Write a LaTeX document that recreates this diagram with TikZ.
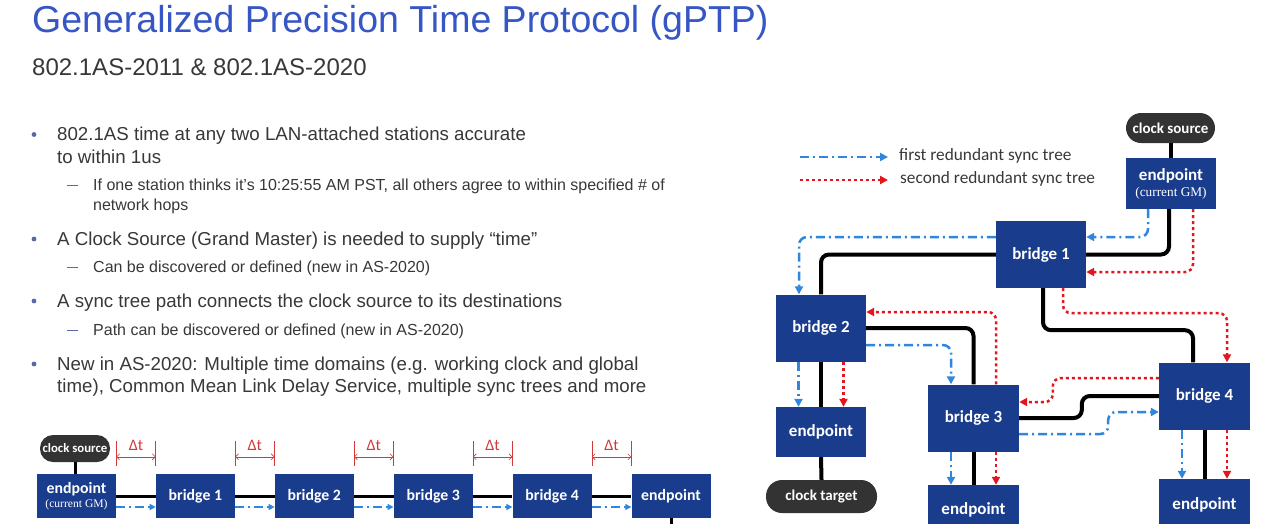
\documentclass[tikz,border=0pt]{standalone}
\usepackage{fontspec}
\setmainfont{Liberation Sans}
\newfontfamily\diag{Carlito}
\newfontfamily\gmserif{Liberation Serif}
\usetikzlibrary{arrows.meta,positioning,calc}
\definecolor{titleblue}{HTML}{3556C4}
\definecolor{bodygray}{HTML}{383838}
\definecolor{dotblue}{HTML}{5868A8}
\definecolor{boxblue}{HTML}{1A3C8C}
\definecolor{pillgray}{HTML}{333333}
\definecolor{treeblue}{HTML}{2E86DE}
\definecolor{treered}{HTML}{E3161E}
\definecolor{dtred}{HTML}{D23A3A}

\begin{document}
\begin{tikzpicture}[x=1pt, y=-1pt,
  txt/.style={anchor=base west, inner sep=0pt, text=bodygray},
  lvlone/.style={txt, font=\fontsize{18.7}{22}\selectfont},
  lvltwo/.style={txt, font=\fontsize{16}{20}\selectfont},
  box/.style={fill=boxblue, text=white, align=center, inner sep=0pt,
    minimum width=90pt, minimum height=67pt, font=\diag\bfseries\fontsize{17}{16}\selectfont},
  lbox/.style={box, minimum width=79pt, minimum height=44pt, font=\diag\bfseries\fontsize{15.8}{14}\selectfont},
  pill/.style={fill=pillgray, text=white, inner sep=0pt, rounded corners=15pt,
    minimum width=89pt, minimum height=30pt, font=\diag\bfseries\fontsize{15}{16}\selectfont},
  lpill/.style={pill, rounded corners=13pt, minimum width=70pt, minimum height=27pt, font=\diag\bfseries\fontsize{12.8}{14}\selectfont},
  link/.style={line width=4pt, black, rounded corners=8pt},
  llink/.style={line width=3pt, black},
  tree1/.style={-{Triangle[length=8pt,width=8pt]}, line width=2.5pt, treeblue,
    dash pattern=on 9pt off 4pt on 2pt off 4pt, rounded corners=8pt},
  tree2/.style={-{Triangle[length=8pt,width=8pt]}, line width=2.5pt, treered,
    dash pattern=on 3pt off 3pt, rounded corners=8pt},
  ltree/.style={tree1, line width=2pt, -{Triangle[length=6pt,width=6pt]}},
  dtline/.style={dtred, line width=0.6pt},
  dtarr/.style={dtline, {Straight Barb[length=3pt]}-{Straight Barb[length=3pt]}},
  dtlabel/.style={text=dtred, inner sep=0pt, font=\diag\fontsize{16}{16}\selectfont},
  legend/.style={anchor=west, inner sep=0pt, text=bodygray, font=\diag\fontsize{17.3}{18}\selectfont}]
\useasboundingbox[fill=white] (0,0) rectangle (1265,523);

% title and bullets
\node[anchor=base west, inner sep=0pt, text=titleblue, font=\fontsize{37.5}{40}\selectfont] (title) at (32,32)
  {Generalized Precision Time Protocol (gPTP)};
\node[anchor=base west, inner sep=0pt, text=bodygray, font=\fontsize{24}{28}\selectfont] (subtitle) at (32,75)
  {802.1AS-2011 \& 802.1AS-2020};

\node[lvlone] (t1a) at (57,140.5) {802.1AS time at any two LAN-attached stations accurate};
\node[lvlone] (t1b) at (57,163) {to within 1us};
\node[lvltwo] (s1a) at (93,190.5) {If one station thinks it’s 10:25:55 AM PST, all others agree to within specified \# of};
\node[lvltwo] (s1b) at (93,210) {network hops};
\node[lvlone] (t2) at (57,245) {A Clock Source (Grand Master) is needed to supply “time”};
\node[lvltwo] (s2) at (93,272) {Can be discovered or defined (new in AS-2020)};
\node[lvlone] (t3) at (57,307) {A sync tree path connects the clock source to its destinations};
\node[lvltwo] (s3) at (93,335) {Path can be discovered or defined (new in AS-2020)};
\node[lvlone] (t4a) at (57,370) {New in AS-2020: Multiple time domains (e.g. working clock and global};
\node[lvlone] (t4b) at (57,392) {time), Common Mean Link Delay Service, multiple sync trees and more};
\foreach \y in {134.5,239,301,364} \fill[dotblue] (34,\y) circle (2.4pt);
\foreach \y in {185,267,330} \draw[dotblue, line width=1pt] (67,\y) -- (78,\y);

% chain at the bottom
\node[lpill] (lcs) at (75,448.5) {clock source};
\node[lbox] (lgm) at (76.5,496) {endpoint\\{\gmserif\mdseries\fontsize{11.6}{12}\selectfont (current GM)}};
\node[lbox, right=39.5pt of lgm] (lb1) {bridge 1};
\node[lbox, right=39.5pt of lb1] (lb2) {bridge 2};
\node[lbox, right=39.5pt of lb2] (lb3) {bridge 3};
\node[lbox, right=39.5pt of lb3] (lb4) {bridge 4};
\node[lbox, right=39.5pt of lb4] (lep) {endpoint};
\draw[llink] (lcs.south) -- (lcs.south |- lgm.north);
\draw[llink] (lep.south) -- ++(0,12);
\foreach \a/\b [count=\i] in {lgm/lb1, lb1/lb2, lb2/lb3, lb3/lb4, lb4/lep} {
  \draw[llink] (\a) -- (\b);
  \draw[ltree] ([yshift=-11pt]\a.east) -- ([yshift=-11pt]\b.west);
  \draw[dtline] ([yshift=8pt]\a.north east) -- ++(0,-25);
  \draw[dtline] ([yshift=8pt]\b.north west) -- ++(0,-25);
  \draw[dtarr] ([yshift=17pt]\a.north east) -- ([yshift=17pt]\b.north west);
  \node[dtlabel] (dt\i) at ($([yshift=28pt]\a.north east)!0.5!([yshift=28pt]\b.north west)$) {Δt};
}

% redundant sync trees
\coordinate (k1a) at (800,157); \coordinate (k1b) at (888,157);
\coordinate (k2a) at (800,180); \coordinate (k2b) at (888,180);
\draw[tree1, rounded corners=0pt] (k1a) -- (k1b);
\draw[tree2, rounded corners=0pt] (k2a) -- (k2b);
\node[legend] (k1) at (899,156) {first redundant sync tree};
\node[legend] (k2) at (900,179) {second redundant sync tree};

\node[pill] (rcs) at (1170.5,128) {clock source};
\node[box, minimum height=51pt] (rgm) at (1171,183.5) {endpoint\\{\gmserif\mdseries\fontsize{13.3}{14}\selectfont (current GM)}};
\node[box] (rb1) at (1041,254.5) {bridge 1};
\node[box] (rb2) at (821,328) {bridge 2};
\node[box, minimum width=91pt] (rb3) at (973.5,418) {bridge 3};
\node[box, minimum width=91pt] (rb4) at (1204.5,396) {bridge 4};
\node[box, minimum height=50pt] (rep2) at (821,432) {endpoint};
\node[pill, minimum width=111pt, minimum height=33pt, rounded corners=16pt] (rct) at (821.5,496.5) {clock target};
\node[box, minimum width=91pt, minimum height=50pt] (rep3) at (973.5,510) {endpoint};
\node[box, minimum width=91pt, minimum height=52pt] (rep4) at (1204.5,505) {endpoint};

\draw[link] (rcs.south) -- (rcs.south |- rgm.north);
\draw[link] ([xshift=-2pt]rgm.south) |- (rb1.east);
\draw[tree1] ([xshift=-23pt]rgm.south) |- ([yshift=17.5pt]rb1.east);
\draw[tree2] ([xshift=22pt]rgm.south) |- ([yshift=-17.5pt]rb1.east);
\draw[link] (rb1.west) -| (rb2.north);
\draw[tree1] ([yshift=17.5pt]rb1.west) -| ([xshift=-22pt]rb2.north);
\draw[link] ([xshift=2pt]rb1.south) -- ++(0,42) -| ([xshift=-11.5pt]rb4.north);
\draw[tree2] ([xshift=22pt]rb1.south) -- ++(0,25) -| ([xshift=22.5pt]rb4.north);
\draw[link] (rb2.east) -| (rb3.north);
\draw[tree1] ([yshift=-17pt]rb2.east) -| ([xshift=-22.5pt]rb3.north);
\draw[tree2] ([xshift=22.5pt]rb3.north) |- ([yshift=16pt]rb2.east);
\draw[link] (rb4.west) -- ++(-77,0) |- (rb3.east);
\draw[tree2] ([yshift=18pt]rb4.west) -- ++(-106,0) |- ([yshift=16pt]rb3.east);
\draw[tree1] ([yshift=-16pt]rb3.east) -- ++(89,0) |- ([yshift=-16pt]rb4.west);
\foreach \u/\d in {rb2/rep2, rb3/rep3, rb4/rep4} {
  \draw[link] (\u.south) -- (\d.north);
  \draw[tree1] ([xshift=-22.5pt]\u.south) -- ([xshift=-22.5pt]\d.north);
  \draw[tree2] ([xshift=22.5pt]\u.south) -- ([xshift=22.5pt]\d.north);
}
\draw[link] (rep2.south) -- (rct.north);
\end{tikzpicture}
\end{document}
